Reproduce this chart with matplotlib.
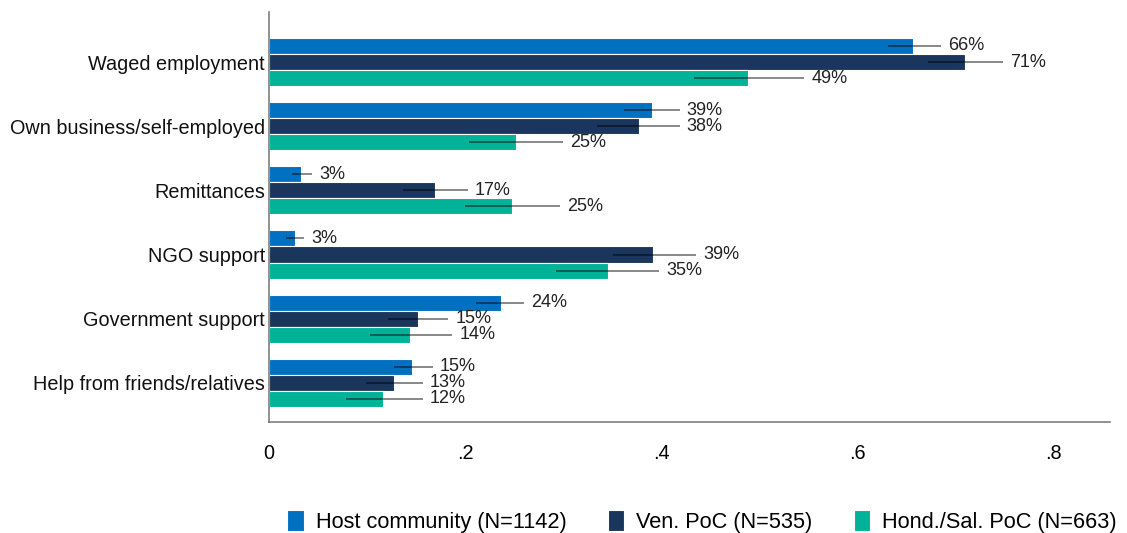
import matplotlib
matplotlib.use("Agg")
import matplotlib.pyplot as plt
import numpy as np
from matplotlib.ticker import FuncFormatter

plt.rcParams["font.family"] = ["Liberation Sans", "DejaVu Sans"]

categories = [
    "Waged employment",
    "Own business/self-employed",
    "Remittances",
    "NGO support",
    "Government support",
    "Help from friends/relatives",
]
series = ["Host community (N=1142)", "Ven. PoC (N=535)", "Hond./Sal. PoC (N=663)"]
colors = ["#0070C0", "#1B365D", "#00B398"]

host = [0.657, 0.391, 0.033, 0.026, 0.237, 0.146]
host_lo = [0.631, 0.362, 0.023, 0.017, 0.211, 0.127]
host_hi = [0.686, 0.419, 0.044, 0.036, 0.260, 0.167]

ven = [0.710, 0.377, 0.169, 0.392, 0.152, 0.128]
ven_lo = [0.672, 0.335, 0.137, 0.351, 0.121, 0.099]
ven_hi = [0.749, 0.419, 0.203, 0.436, 0.183, 0.157]

hond = [0.489, 0.252, 0.248, 0.346, 0.144, 0.116]
hond_lo = [0.434, 0.204, 0.200, 0.293, 0.103, 0.079]
hond_hi = [0.546, 0.300, 0.297, 0.398, 0.187, 0.157]

values = [host, ven, hond]
lows = [host_lo, ven_lo, hond_lo]
highs = [host_hi, ven_hi, hond_hi]

fig = plt.figure(figsize=(11.27, 5.33), dpi=100)
ax = fig.add_axes([0.2387, 0.2083, 0.985 - 0.2387, 0.9775 - 0.2083])

y = np.arange(len(categories))
h = 0.25
for k, (vals, lo, hi) in enumerate(zip(values, lows, highs)):
    pos = y + (k - 1) * h
    vals = np.array(vals)
    ax.barh(pos, vals, height=h, color=colors[k], edgecolor="white",
            linewidth=0.8, label=series[k])
    ax.hlines(pos, lo, hi, color="black", alpha=0.5, linewidth=1.3)
    for p, v, e in zip(pos, vals, hi):
        ax.annotate(f"{v * 100:.0f}%", (e, p), xytext=(5, 0),
                    textcoords="offset points", va="center", ha="left",
                    fontsize=13, color="#222222")

ax.set_ylim(len(categories) - 1 + 0.61, -0.78)
ax.set_xlim(0, 0.858)
ax.set_yticks(y)
ax.set_yticklabels(categories, fontsize=14.3)
ax.set_xticks([0, 0.2, 0.4, 0.6, 0.8])
ax.xaxis.set_major_formatter(
    FuncFormatter(lambda v, _: "0" if v == 0 else f"{v:.1f}".lstrip("0")))
ax.tick_params(axis="x", length=0, pad=16, labelsize=14.3)
ax.tick_params(axis="y", length=0, pad=3, colors="#111111")
for s in ["top", "right"]:
    ax.spines[s].set_visible(False)
for s in ["left", "bottom"]:
    ax.spines[s].set_color("#7f7f7f")
    ax.spines[s].set_linewidth(1.2)

fig.legend(loc="center", bbox_to_anchor=(0.623, 0.022), ncol=3,
           frameon=False, fontsize=15.7, handlelength=0.75, handleheight=1.1,
           handletextpad=0.55, columnspacing=1.9)

fig.savefig("out.png", dpi=100)
